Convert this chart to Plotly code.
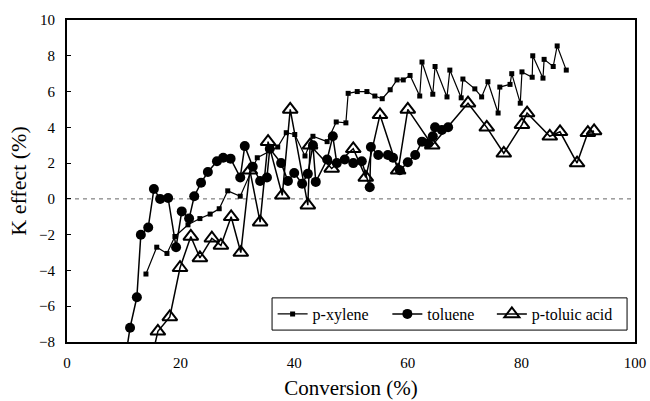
import plotly.graph_objects as go

# p-xylene (small filled squares)
px_x = [13.9, 15.8, 17.6, 19.0, 21.3, 23.4, 25.2, 26.8, 28.3, 30.5, 33.5, 37.1, 38.6, 40.1, 41.9,
        43.3, 45.8, 47.4, 49.1, 49.5, 51.1, 52.8, 54.2, 55.5, 56.9, 58.1, 59.2, 60.4, 62.1, 62.5,
        64.4, 64.8, 66.9, 67.4, 69.4, 69.7, 71.8, 73.0, 74.1, 75.9, 76.2, 78.0, 78.3, 79.8, 80.1,
        81.9, 82.0, 83.8, 84.0, 85.6, 86.3, 87.9]
px_y = [-4.2, -2.7, -3.05, -2.1, -1.45, -1.1, -0.85, -0.55, 0.45, 0.15, 2.3, 2.9, 3.7, 3.6, 2.4,
        3.5, 3.2, 4.3, 4.25, 5.9, 6.0, 6.0, 5.75, 5.6, 6.1, 6.65, 6.65, 6.9, 5.75, 7.65,
        5.85, 7.4, 5.7, 7.2, 5.65, 6.7, 6.15, 5.7, 6.55, 4.8, 6.25, 6.4, 7.0, 5.35, 7.1,
        6.8, 8.0, 6.75, 7.8, 7.4, 8.55, 7.2]

# toluene (filled circles)
tol_x = [10.0, 11.1, 12.3, 13.0, 14.3, 15.3, 16.4, 17.8, 19.2, 20.2, 21.5, 22.4, 23.6, 24.8,
         26.4, 27.5, 28.8, 30.5, 31.3, 32.7, 34.0, 35.2, 35.7, 37.7, 38.9, 40.0, 41.4, 42.4,
         43.3, 43.8, 45.8, 46.8, 47.5, 48.9, 50.4, 51.9, 53.3, 53.5, 54.8, 56.5, 57.4, 58.6,
         60.0, 61.3, 62.5, 63.6, 64.4, 64.8, 66.0, 67.1]
tol_y = [-9.5, -7.2, -5.5, -2.0, -1.6, 0.55, 0.0, 0.05, -2.7, -0.7, -1.1, 0.15, 0.9, 1.5,
         2.1, 2.3, 2.25, 1.2, 2.95, 1.8, 1.0, 1.2, 2.8, 2.0, 1.0, 1.45, 0.85, 1.4,
         3.0, 0.95, 2.2, 3.5, 2.0, 2.2, 2.0, 2.1, 0.65, 2.9, 2.45, 2.45, 2.3, 1.6,
         2.05, 2.45, 3.2, 3.1, 3.5, 4.0, 3.85, 4.0]

# p-toluic acid (open triangles)
pta_x = [14.5, 16.0, 18.1, 19.9, 21.8, 23.4, 25.5, 27.1, 28.9, 30.6, 32.2, 34.0, 35.4, 37.9,
         39.3, 42.4, 42.8, 46.6, 50.4, 52.6, 55.1, 58.3, 60.0, 64.3, 70.6, 73.9, 76.9, 80.1,
         81.0, 85.0, 86.8, 89.8, 91.7, 92.8]
pta_y = [-9.5, -7.4, -6.6, -3.85, -2.1, -3.3, -2.2, -2.6, -1.0, -3.0, 1.6, -1.3, 3.2, 0.2,
         5.0, -0.35, 3.0, 1.7, 2.8, 1.2, 4.7, 1.6, 5.0, 3.0, 5.35, 4.0, 2.55, 4.15,
         4.8, 3.5, 3.75, 2.0, 3.7, 3.8]

x_ticks = [0, 20, 40, 60, 80, 100]
y_ticks = [-8, -6, -4, -2, 0, 2, 4, 6, 8, 10]

FONT = "Liberation Serif"

fig = go.Figure()
fig.add_trace(go.Scatter(
    x=px_x, y=px_y, mode="lines+markers", name="p-xylene", legend="legend",
    line=dict(color="black", width=1.2),
    marker=dict(symbol="square", size=5, color="black")))
fig.add_trace(go.Scatter(
    x=tol_x, y=tol_y, mode="lines+markers", name="toluene", legend="legend2",
    line=dict(color="black", width=1.5),
    marker=dict(symbol="circle", size=10, color="black")))
fig.add_trace(go.Scatter(
    x=pta_x, y=pta_y, mode="lines+markers", name="p-toluic acid", legend="legend3",
    line=dict(color="black", width=1.5),
    marker=dict(symbol="triangle-up-open", size=13, color="black", line=dict(width=2))))

fig.add_hline(y=0, line=dict(color="#666", width=1, dash="4px,4px"), layer="below")

# legend frame (the three legend entries sit inside it)
fig.add_shape(type="rect", xref="paper", yref="paper",
              x0=0.361, x1=0.986, y0=0.037, y1=0.137,
              line=dict(color="black", width=1), fillcolor="white", layer="above")

leg_common = dict(orientation="h", yanchor="middle", xanchor="left", y=0.087,
                  bgcolor="rgba(0,0,0,0)", borderwidth=0, itemwidth=30,
                  font=dict(family=FONT, size=16))

fig.update_layout(
    width=650, height=401,
    margin=dict(l=67, r=15, t=20, b=59),
    paper_bgcolor="white", plot_bgcolor="white",
    font=dict(family=FONT, size=15, color="black"),
    showlegend=True,
    legend=dict(x=0.362, **leg_common),
    legend2=dict(x=0.564, **leg_common),
    legend3=dict(x=0.748, **leg_common),
    xaxis=dict(range=[0, 100], tickvals=x_ticks, showgrid=False, zeroline=False,
               showline=True, linecolor="black", linewidth=2, mirror=True, automargin=False,
               ticks="", ticklabelstandoff=6, tickfont=dict(family=FONT, size=15),
               title=dict(text="Conversion (%)", font=dict(family=FONT, size=21), standoff=10)),
    yaxis=dict(range=[-8, 10], tickvals=y_ticks, showgrid=False, zeroline=False,
               showline=True, linecolor="black", linewidth=2, mirror=True, automargin=False,
               ticks="inside", ticklen=4, tickcolor="black", ticklabelstandoff=7,
               tickfont=dict(family=FONT, size=15),
               title=dict(text="K effect (%)", font=dict(family=FONT, size=22), standoff=6)),
)

fig.write_html("out.html", config={"displayModeBar": False},
               post_script="document.body.style.margin='0';document.body.style.overflow='hidden';")
